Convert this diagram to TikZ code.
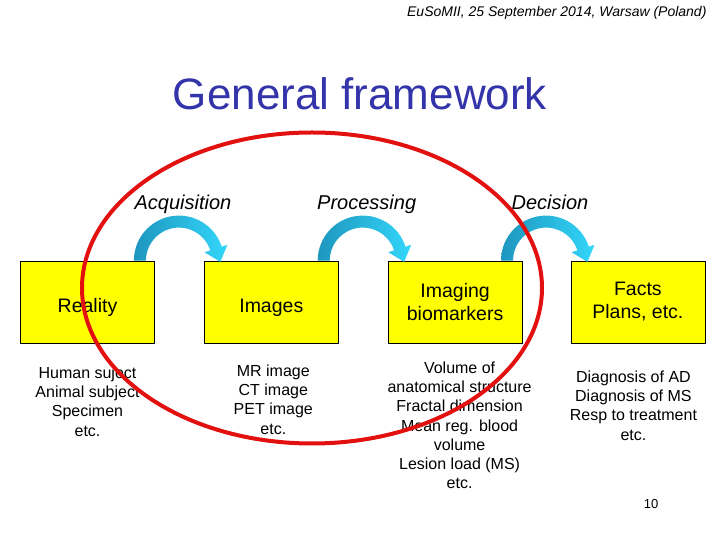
\documentclass[tikz,border=0pt]{standalone}
\usepackage{fontspec}
\setmainfont{Liberation Sans}
\usetikzlibrary{positioning, calc}
\definecolor{titleblue}{HTML}{3333AA}
\definecolor{boxyellow}{HTML}{FFFF00}
\definecolor{flowdark}{HTML}{1E96BE}
\definecolor{flowlight}{HTML}{33D6FA}
\definecolor{ringred}{HTML}{E31010}
\newcommand{\TitleF}{\fontsize{44}{53}\selectfont}
\newcommand{\HeadF}{\fontsize{14}{17}\selectfont}
\newcommand{\StepF}{\fontsize{20}{24}\selectfont}
\newcommand{\BoxF}{\fontsize{19.5}{23}\selectfont}
\newcommand{\ListF}{\fontsize{16}{19.3}\selectfont}

% curved flow arrow from the top of one box to the next, with its label
\newcommand{\FlowArrow}[3]{%
  \coordinate (tail) at ($(#1.north east)+(-15pt,0pt)$);
  \coordinate (head) at ($(#2.north west)+(14pt,0pt)$);
  \coordinate (mid) at ($(tail)!0.5!(head)$);
  \shade[left color=flowdark, right color=flowlight]
    ($(mid)+(180:45pt)$) arc[start angle=180, end angle=18, radius=45pt]
    -- ($(mid)+(18:51pt)$) -- ($(mid)+(18:39pt)+(-72:14pt)$) -- ($(mid)+(18:27pt)$)
    -- ($(mid)+(18:33pt)$) arc[start angle=18, end angle=180, radius=33pt] -- cycle;
  \node[steplabel] at ($(mid)+(4pt,51pt)$) {#3};}

\begin{document}
\begin{tikzpicture}[x=1pt, y=1pt,
    stepbox/.style={draw=black, line width=0.8pt, fill=boxyellow,
      minimum width=134pt, minimum height=82pt, inner sep=0pt,
      align=center, font=\BoxF},
    oneline/.style={text height=22pt, text depth=0pt},
    steplabel/.style={anchor=base, font=\StepF\itshape},
    listtext/.style={align=center, font=\ListF, inner sep=0pt},
    ring/.style={draw=ringred, line width=4pt}]
  \path[use as bounding box, fill=white] (0,0) rectangle (720,540);

  \node[anchor=base east, font=\HeadF\itshape] (venue) at (710,523)
    {EuSoMII, 25 September 2014, Warsaw (Poland)};
  \node[anchor=base, font=\TitleF, text=titleblue] (title) at (360,430)
    {General framework};

  % the four stages
  \node[stepbox, oneline] (reality) at (87.5,238) {Reality};
  \node[stepbox, oneline, right=49pt of reality] (images) {Images};
  \node[stepbox, right=49pt of images] (markers) {Imaging\\biomarkers};
  \node[stepbox, right=48pt of markers] (facts) {Facts\\Plans, etc.};

  % examples under each stage
  \node[listtext, below=23pt of reality] (reality-list)
    {Human suject\\Animal subject\\Specimen\\etc.};
  \node[listtext, below=21pt of images, xshift=2pt] (images-list)
    {MR image\\CT image\\PET image\\etc.};
  \node[listtext, below=18pt of markers, xshift=4.5pt] (markers-list)
    {Volume of\\anatomical structure\\Fractal dimension\\Mean reg. blood\\volume\\Lesion load (MS)\\etc.};
  \node[listtext, below=27pt of facts, xshift=-4.5pt] (facts-list)
    {Diagnosis of AD\\Diagnosis of MS\\Resp to treatment\\etc.};

  \FlowArrow{reality}{images}{Acquisition}
  \FlowArrow{images}{markers}{Processing}
  \FlowArrow{markers}{facts}{Decision}

  \draw[ring] (312,252) ellipse[x radius=230pt, y radius=155.5pt];

  \node[anchor=base, font=\fontsize{13}{16}\selectfont] (pageno) at (651,31) {10};
\end{tikzpicture}
\end{document}
